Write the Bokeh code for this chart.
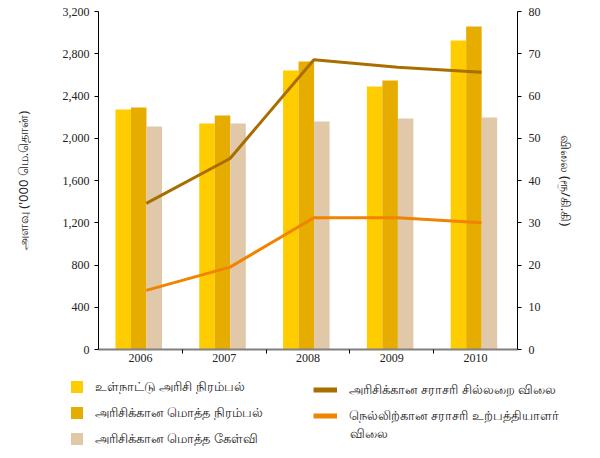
from bokeh.plotting import figure
from bokeh.layouts import column
from bokeh.models import (Range1d, LinearAxis, FixedTicker, Legend,
                          LegendItem, Label, NumeralTickFormatter, ColumnDataSource)
from bokeh.transform import dodge
from bokeh.embed import file_html
from bokeh.resources import INLINE

years = ["2006", "2007", "2008", "2009", "2010"]
domestic_production = [2272, 2140, 2642, 2490, 2926]
total_supply = [2291, 2216, 2727, 2547, 3058]
total_demand = [2111, 2140, 2159, 2187, 2197]
retail_price = [34.6, 45.2, 68.6, 66.8, 65.6]
paddy_price = [14.0, 19.5, 31.2, 31.2, 30.0]

left_ticks = [0, 400, 800, 1200, 1600, 2000, 2400, 2800, 3200]
right_ticks = [0, 10, 20, 30, 40, 50, 60, 70, 80]

series_names = ["உள்நாட்டு அரிசி நிரம்பல்", "அரிசிக்கான மொத்த நிரம்பல்", "அரிசிக்கான மொத்த கேள்வி"]
line_names = ["அரிசிக்கான சராசரி சில்லறை விலை", "நெல்லிற்கான சராசரி உற்பத்தியாளர்"]
line_name_wrap = "விலை"
left_title = "அளவு ('000 மெ.தொன்)"
right_title = "விலை (ரூ/கி.கி)"

TAMIL = "Noto Sans"
SERIF = "Liberation Serif"
TXT = "#222222"

bar_colors = ["#FFCC00", "#E6AC00", "#E0C8A8"]
line_colors = ["#A86E00", "#F08300"]

# category slot centres on a numeric axis (one slot per year)
centres = [i + 0.5 for i in range(len(years))]
bounds = [i for i in range(1, len(years))]

source = ColumnDataSource(dict(pos=centres, dom=domestic_production, sup=total_supply,
                               dem=total_demand, retail=retail_price, paddy=paddy_price))

W = 598
p = figure(x_range=Range1d(0, len(years)), y_range=Range1d(0, 3200),
           width=W, height=372, output_backend="svg", toolbar_location=None,
           x_axis_location=None, y_axis_location=None,
           min_border_left=98, min_border_right=81, min_border_top=11, min_border_bottom=23)
p.frame_align = False
p.outline_line_color = None
p.xgrid.visible = False
p.ygrid.visible = False
p.extra_y_ranges = {"price": Range1d(0, 80)}

offsets = [-0.205, -0.02, 0.165]
fields = ["dom", "sup", "dem"]
for f, c, o in zip(fields, bar_colors, offsets):
    p.vbar(x=dodge("pos", o), top=f, width=0.185, source=source,
           fill_color=c, line_color=None)

p.line(x=dodge("pos", 0.07), y="retail", y_range_name="price",
       source=source, line_color=line_colors[0], line_width=3)
p.line(x=dodge("pos", 0.07), y="paddy", y_range_name="price",
       source=source, line_color=line_colors[1], line_width=3)

def style_y(ax, standoff_title, standoff_lab):
    ax.axis_label_text_font = TAMIL
    ax.axis_label_text_font_size = "13px"
    ax.axis_label_text_font_style = "normal"
    ax.axis_label_text_color = TXT
    ax.axis_label_standoff = standoff_title
    ax.major_label_text_font = SERIF
    ax.major_label_text_font_size = "12px"
    ax.major_label_text_color = TXT
    ax.major_label_standoff = standoff_lab
    ax.major_tick_in = 0
    ax.major_tick_out = 4
    ax.minor_tick_out = 0
    ax.minor_tick_in = 0
    ax.axis_line_color = "#000000"
    ax.major_tick_line_color = "#000000"

ly = LinearAxis(ticker=FixedTicker(ticks=left_ticks), formatter=NumeralTickFormatter(format="0,0"),
                axis_label=left_title)
style_y(ly, 28, 5)
p.add_layout(ly, "left")

ry = LinearAxis(y_range_name="price", ticker=FixedTicker(ticks=right_ticks), axis_label=right_title)
style_y(ry, 13, 7)
p.add_layout(ry, "right")

# bottom axis: labels at category centres, ticks between categories
bx = LinearAxis(ticker=FixedTicker(ticks=centres, minor_ticks=bounds))
bx.major_label_overrides = {c: y for c, y in zip(centres, years)}
bx.major_label_text_font = SERIF
bx.major_label_text_font_size = "12px"
bx.major_label_text_color = TXT
bx.major_label_standoff = 0
bx.major_tick_in = 0
bx.major_tick_out = 0
bx.minor_tick_in = 0
bx.minor_tick_out = 4
bx.minor_tick_line_color = "#000000"
bx.axis_line_color = "#808080"
bx.axis_line_width = 2
p.add_layout(bx, "below")

# ---- legend panel below the chart ----
LH = 84
lf = figure(x_range=Range1d(0, len(years)), y_range=Range1d(100000, 100001), width=W, height=LH,
            output_backend="svg", toolbar_location=None, x_axis_location=None,
            y_axis_location=None, min_border=0)
lf.frame_align = False
lf.outline_line_color = None
lf.xgrid.visible = False
lf.ygrid.visible = False

# key renderers: same series, far below this panel's range so only their legend keys show
key_bars = [lf.vbar(x="pos", top=f, width=0.185, source=source, fill_color=c, line_color=None)
            for f, c in zip(fields, bar_colors)]
key_lines = [lf.line(x="pos", y=f, source=source, line_color=c, line_width=5)
             for f, c in zip(["retail", "paddy"], line_colors)]

common = dict(padding=0, margin=0, border_line_color=None, background_fill_alpha=0,
              label_text_font=TAMIL, label_text_font_size="13px", label_text_color=TXT,
              glyph_height=15, label_height=15, spacing=7)

leg1 = Legend(items=[LegendItem(label=n, renderers=[r]) for n, r in zip(series_names, key_bars)],
              location=(69, 8), label_standoff=11, glyph_width=15, **common)
lf.add_layout(leg1)

leg2 = Legend(items=[LegendItem(label=n, renderers=[r]) for n, r in zip(line_names, key_lines)],
              location=(313, 31), label_standoff=12, glyph_width=24, **common)
lf.add_layout(leg2)

lf.add_layout(Label(x=349, y=24, x_units="screen", y_units="screen", text=line_name_wrap,
                    text_font=TAMIL, text_font_size="13px", text_color=TXT,
                    text_baseline="middle"))

layout = column(p, lf, spacing=0)
open("out.html", "w").write(file_html(layout, INLINE))
